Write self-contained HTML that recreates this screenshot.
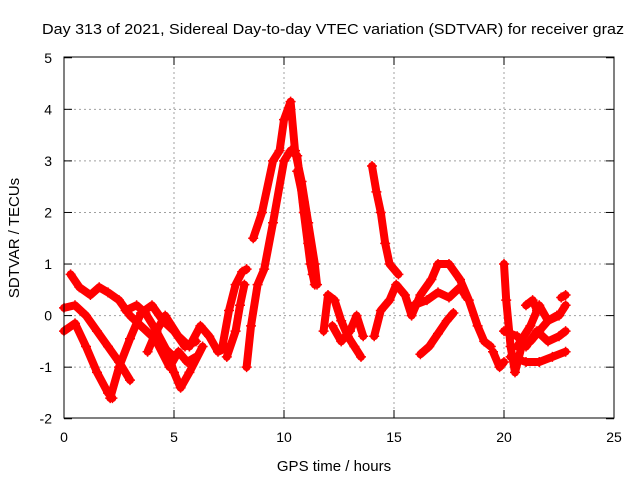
<!DOCTYPE html>
<html><head><meta charset="utf-8"><style>
body{margin:0;background:#fff}
svg{display:block;font-family:"Liberation Sans",sans-serif}
</style></head><body>
<svg id="chart" width="640" height="480">
<rect width="640" height="480" fill="#fff"/>
<text x="42" y="34" font-size="15" textLength="582" lengthAdjust="spacingAndGlyphs">Day 313 of 2021, Sidereal Day-to-day VTEC variation (SDTVAR) for receiver graz</text>
<text x="334" y="471" font-size="15" text-anchor="middle">GPS time / hours</text>
<text x="19" y="238" font-size="15" text-anchor="middle" transform="rotate(-90 19 238)">SDTVAR / TECUs</text>
<g id="grid"></g><g id="ticks"></g><g id="series"></g>
<rect x="64" y="57" width="550" height="361" fill="none" stroke="#000" stroke-width="1"/>
</svg>
<script>
const xTicks=[0,5,10,15,20,25];
const yTicks=[-2,-1,0,1,2,3,4,5];
const t1=[[0,0.15],[0.5,0.2],[1,0.0],[1.5,-0.3],[2,-0.6],[2.5,-0.9],[3,-1.25]];
const t2=[[0,-0.3],[0.5,-0.15],[1,-0.6],[1.5,-1.1],[2,-1.5],[2.2,-1.6]];
const t3=[[0.3,0.8],[0.7,0.55],[1.2,0.4],[1.6,0.55],[2,0.45],[2.5,0.3],[3,0.0],[3.5,-0.2],[4,-0.4],[4.5,-0.6],[5,-0.8]];
const t4=[[2.1,-1.6],[2.5,-1.0],[3,-0.45],[3.5,0.05],[4,0.2],[4.5,-0.1],[5,-0.3],[5.5,-0.6],[6,-0.5]];
const t5=[[2.8,0.1],[3.3,0.2],[3.7,0.05],[4.2,-0.3],[4.7,-0.7],[5,-1.1],[5.3,-1.4],[5.7,-1.1],[6.3,-0.6]];
const t6=[[3.8,-0.7],[4.2,-0.3],[4.6,0.0],[5.2,-0.4],[5.7,-0.6],[6.2,-0.2],[6.6,-0.4],[7,-0.7],[7.5,-0.6]];
const t7=[[4.2,-0.5],[4.8,-1.0],[5.2,-0.7],[5.6,-0.9],[6,-0.8]];
const t8=[[7.2,-0.6],[7.5,0.1],[7.8,0.6],[8.1,0.85],[8.3,0.9]];
const t9=[[7.4,-0.8],[7.8,-0.3],[8,0.2],[8.2,0.6]];
const t10=[[8.3,-1.0],[8.5,-0.2],[8.8,0.6],[9.1,0.9],[9.5,1.8],[10,3.0],[10.3,3.2],[10.6,3.1],[10.9,2.0],[11.2,1.0],[11.4,0.6]];
const t11=[[8.6,1.5],[9,2.0],[9.5,3.0],[9.8,3.2],[10,3.8],[10.3,4.15],[10.5,3.2],[10.8,2.6],[11.1,1.8],[11.4,1.0],[11.5,0.6]];
const t12=[[11.8,-0.3],[12,0.4],[12.3,0.3],[12.6,-0.1],[12.9,-0.4],[13.2,-0.6],[13.5,-0.8]];
const t13=[[12.2,-0.2],[12.6,-0.5],[13,-0.3],[13.3,0.0],[13.6,-0.4]];
const t14=[[14,2.9],[14.2,2.4],[14.4,2.0],[14.6,1.4],[14.8,1.0],[15.2,0.8]];
const t15=[[14.1,-0.4],[14.4,0.1],[14.8,0.3],[15.1,0.6],[15.5,0.4],[15.8,0.0],[16.2,0.4],[16.7,0.7],[17,1.0],[17.5,1.0],[18,0.7],[18.4,0.3],[18.8,-0.2],[19.1,-0.5],[19.4,-0.6]];
const t16=[[16.2,-0.75],[16.6,-0.6],[17,-0.35],[17.4,-0.1],[17.7,0.05]];
const t17=[[15.9,0.2],[16.5,0.3],[17,0.45],[17.5,0.35],[18,0.55],[18.3,0.35]];
const t18=[[19.5,-0.7],[19.8,-1.0],[20,-0.9]];
const t19=[[20,1.0],[20.1,0.3],[20.3,-0.6],[20.5,-1.1],[20.8,-0.6]];
const t20=[[20,-0.3],[20.6,-0.4],[21,-0.6],[21.5,-0.3],[22,-0.5],[22.5,-0.4],[22.8,-0.3]];
const t21=[[20.3,-0.8],[21,-0.9],[21.6,-0.9],[22.2,-0.8],[22.8,-0.7]];
const t22=[[20.6,-0.6],[21.2,-0.2],[21.6,0.2],[22,-0.1],[22.5,0.0],[22.8,0.2]];
const t23=[[21.2,-0.5],[21.6,-0.3],[22,-0.1],[22.4,0.0]];
const t24=[[21,0.2],[21.3,0.3],[21.5,0.1]];
const t25=[[22.6,0.35],[22.8,0.4]];
const t26=[[10.6,2.8],[10.9,2.2],[11.1,1.4],[11.3,0.8]];
const tracks=[t1,t2,t3,t4,t5,t6,t7,t8,t9,t10,t11,t12,t13,t14,t15,t16,t17,t18,t19,t20,t21,t22,t23,t24,t25,t26];
const X=v=>64+v*22, Y=v=>315.6-v*51.57;
const ns="http://www.w3.org/2000/svg";
const grid=document.getElementById('grid'), ticks=document.getElementById('ticks'), ser=document.getElementById('series');
function mk(tag,attrs,parent){const e=document.createElementNS(ns,tag);for(const k in attrs)e.setAttribute(k,attrs[k]);parent.appendChild(e);return e;}
xTicks.forEach(v=>{
 if(v>0&&v<25){const g=mk('line',{x1:X(v),x2:X(v),y1:57,y2:418,stroke:'#a0a0a0','stroke-dasharray':'2,3'},grid);
 
 }
 mk('line',{x1:X(v),x2:X(v),y1:418,y2:410,stroke:'#000'},ticks);
 mk('line',{x1:X(v),x2:X(v),y1:57,y2:65,stroke:'#000'},ticks);
 const t=mk('text',{x:X(v),y:442,'font-size':14,'text-anchor':'middle'},ticks);t.textContent=v;
 
 
});
yTicks.forEach(v=>{
 if(v>-2&&v<5){const g=mk('line',{x1:64,x2:614,y1:Y(v),y2:Y(v),stroke:'#a0a0a0','stroke-dasharray':'2,3'},grid);
 
 }
 mk('line',{x1:64,x2:72,y1:Y(v),y2:Y(v),stroke:'#000'},ticks);
 mk('line',{x1:606,x2:614,y1:Y(v),y2:Y(v),stroke:'#000'},ticks);
 const t=mk('text',{x:52,y:Y(v)+5,'font-size':14,'text-anchor':'end'},ticks);t.textContent=v;
 
 
});
tracks.forEach(tr=>{
 const p=mk('polyline',{points:tr.map(d=>X(d[0])+','+Y(d[1])).join(' '),fill:'none',stroke:'#ff0000','stroke-width':8,'stroke-linejoin':'round','stroke-linecap':'round'},ser);
 
 
 tr.forEach(d=>{
  const m=mk('path',{d:`M${X(d[0])-5},${Y(d[1])}h10M${X(d[0])},${Y(d[1])-5}v10`,stroke:'#ff0000','stroke-width':1.5},ser);
  
  
 });
});
</script>
</body></html>
